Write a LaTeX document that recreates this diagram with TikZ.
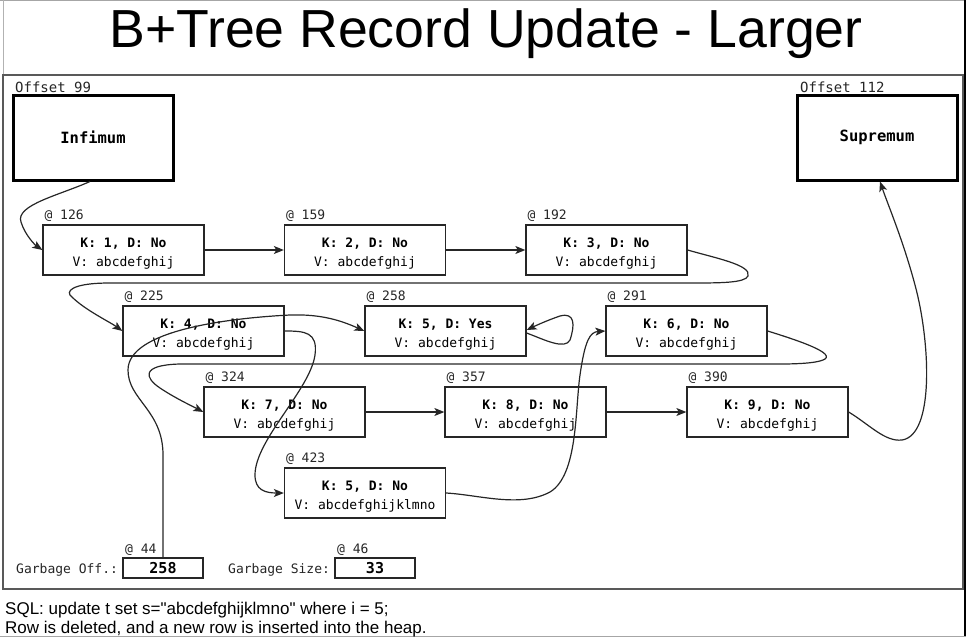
\documentclass[tikz,border=0pt]{standalone}
\usepackage{fontspec}
\setmainfont{Liberation Sans}[Ligatures=TeXOff]
\newfontfamily\mono{DejaVu Sans Mono}
\usetikzlibrary{arrows.meta}
\newcommand{\rstrut}{\rule{0pt}{17pt}}
\begin{document}
\begin{tikzpicture}[x=1pt,y=-1pt,
  rec/.style={draw=black!85, line width=1.3pt, minimum width=161pt, minimum height=50pt, inner sep=0pt, align=center, font=\mono\fontsize{13}{19}\selectfont},
  big/.style={draw=black, line width=3pt, minimum width=160pt, minimum height=85pt, inner sep=0pt, font=\mono\bfseries\fontsize{15.5}{18}\selectfont},
  gbox/.style={draw=black!85, line width=1.5pt, minimum width=80pt, minimum height=20pt, inner sep=0pt, font=\mono\bfseries\fontsize{15}{17}\selectfont},
  lbl/.style={font=\mono\fontsize{13}{15}\selectfont, anchor=base west, inner sep=0pt, text=black!85},
  conn/.style={draw=black!85, line width=1.2pt, -{Stealth[length=10pt,width=8pt,inset=2.5pt]}},
]
\useasboundingbox (0,0) rectangle (966,637);
% slide edges
\draw[black!35, line width=1pt] (0,0.5) -- (966,0.5);
\draw[black!30, line width=1pt] (3,0) -- (3,75);
\draw[black, line width=1.5pt] (965,0) -- (965,637);
\draw[black!35, line width=1pt] (0,636) -- (966,636);
% title
\node[anchor=base, inner sep=0pt, font=\fontsize{53.6}{60}\selectfont] (title) at (486,47) {B+Tree Record Update - Larger};
% frame
\draw[black!65, line width=2pt] (3,75) rectangle (963,589);
% infimum / supremum
\node[big] (inf) at (93,137.5) {Infimum};
\node[big] (sup) at (877,137.5) {Supremum};
\node[lbl, font=\mono\fontsize{14}{16}\selectfont] (linf) at (15,92) {Offset 99};
\node[lbl, font=\mono\fontsize{14}{16}\selectfont] (lsup) at (800,92) {Offset 112};
% records
\node[rec] (r126) at (123.5,250) {\rstrut\textbf{K: 1, D: No}\\V: abcdefghij};
\node[rec] (r159) at (365,250) {\rstrut\textbf{K: 2, D: No}\\V: abcdefghij};
\node[rec] (r192) at (606.5,250) {\rstrut\textbf{K: 3, D: No}\\V: abcdefghij};
\node[rec] (r225) at (203.5,331) {\rstrut\textbf{K: 4, D: No}\\V: abcdefghij};
\node[rec] (r258) at (445.5,331) {\rstrut\textbf{K: 5, D: Yes}\\V: abcdefghij};
\node[rec] (r291) at (686.5,331) {\rstrut\textbf{K: 6, D: No}\\V: abcdefghij};
\node[rec] (r324) at (284.5,412) {\rstrut\textbf{K: 7, D: No}\\V: abcdefghij};
\node[rec] (r357) at (525.5,412) {\rstrut\textbf{K: 8, D: No}\\V: abcdefghij};
\node[rec] (r390) at (767.5,412) {\rstrut\textbf{K: 9, D: No}\\V: abcdefghij};
\node[rec] (r423) at (365,493) {\rstrut\textbf{K: 5, D: No}\\V: abcdefghijklmno};
\foreach \n/\t in {r126/126,r159/159,r192/192,r225/225,r258/258,r291/291,r324/324,r357/357,r390/390,r423/423}
  \node[lbl] (l\n) at ([xshift=2pt,yshift=5pt]\n.north west) {@ \t};
% garbage
\node[gbox] (goff) at (163,568) {258};
\node[gbox] (gsize) at (375,568) {33};
\node[lbl] (lgoff) at (16,573) {Garbage Off.:};
\node[lbl] (lgsize) at (228,573) {Garbage Size:};
\node[lbl] (lg44) at (125,553) {@ 44};
\node[lbl] (lg46) at (337,553) {@ 46};
% footer
\node[anchor=base west, inner sep=0pt, font=\fontsize{17}{20}\selectfont] (sql) at (5,614) {SQL: update t set s="abcdefghijklmno" where i = 5;};
\node[anchor=base west, inner sep=0pt, font=\fontsize{17}{20}\selectfont] (note) at (5,633) {Row is deleted, and a new row is inserted into the heap.};
% connectors
\draw[conn] ([xshift=-3pt]inf.south) .. controls (60,195) and (15,205) .. (21,222) .. controls (25,235) and (35,245) .. (r126.west);
\draw[conn] (r126.east) -- (r159.west);
\draw[conn] (r159.east) -- (r192.west);
\draw[conn] (r192.east) .. controls (715,258) and (752,265) .. (748,276) .. controls (745,283) and (720,283) .. (690,283) -- (110,283) .. controls (70,283) and (65,292) .. (72,297) .. controls (85,310) and (110,322) .. (r225.west);
\draw[conn] (goff.north) -- (163,455) .. controls (163,410) and (128,400) .. (128,370) .. controls (128,330) and (230,318) .. (290,315) .. controls (320,314) and (340,320) .. (r258.west);
\draw[conn] (r225.east) .. controls (305,331) and (318,332) .. (315,355) .. controls (310,390) and (255,440) .. (255,475) .. controls (255,490) and (265,493) .. (r423.west);
\draw[conn] ([yshift=-2pt]r258.east) .. controls (545,340) and (565,350) .. (570,340) .. controls (575,325) and (575,312) .. (560,316) .. controls (548,320) and (535,326) .. ([yshift=1pt]r258.east);
\draw[conn] (r291.east) .. controls (790,338) and (835,352) .. (825,359) .. controls (815,365) and (780,364) .. (750,364) -- (180,364) .. controls (140,365) and (145,378) .. (160,388) .. controls (175,398) and (190,405) .. (r324.west);
\draw[conn] (r324.east) -- (r357.west);
\draw[conn] (r357.east) -- (r390.west);
\draw[conn] (r390.east) .. controls (870,425) and (885,442) .. (902,440) .. controls (935,435) and (930,340) .. (915,285) .. controls (903,240) and (888,205) .. ([xshift=3pt]sup.south);
\draw[conn] (r423.east) .. controls (480,495) and (520,508) .. (550,492) .. controls (578,475) and (575,410) .. (580,375) .. controls (585,340) and (590,332) .. (r291.west);
\end{tikzpicture}
\end{document}
